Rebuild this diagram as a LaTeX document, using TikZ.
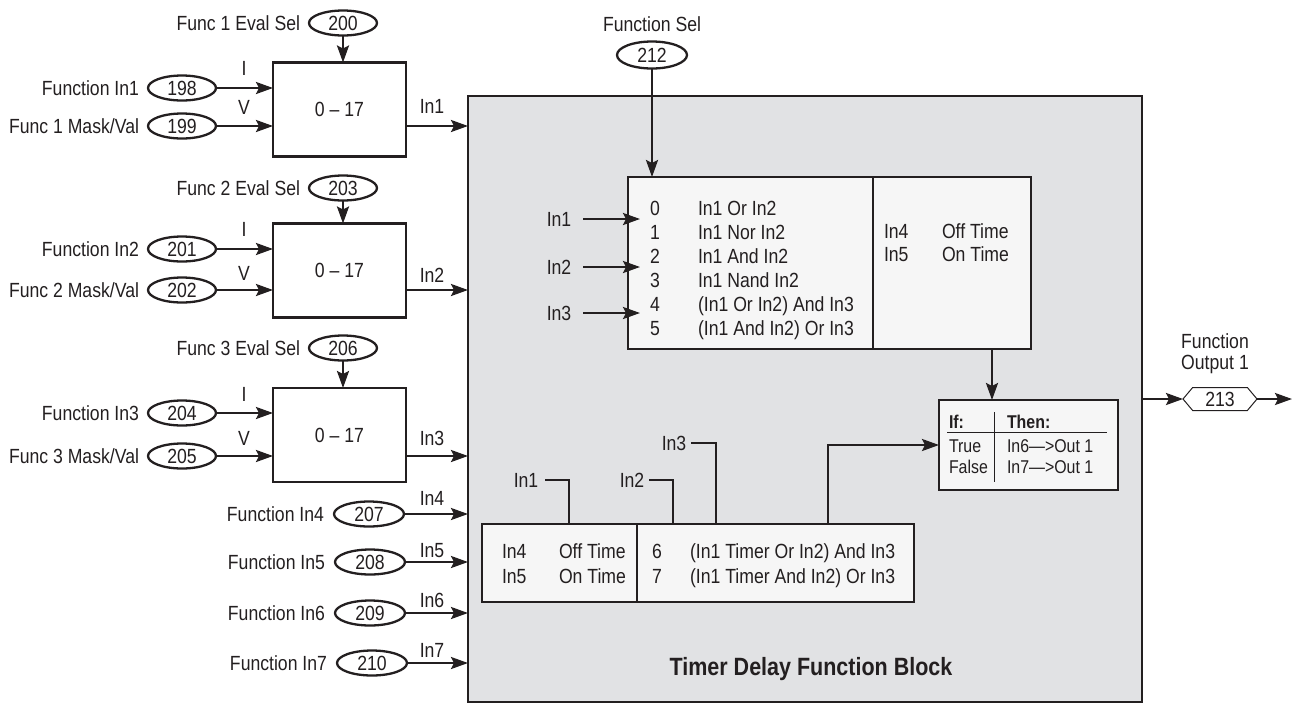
\documentclass[tikz,border=0pt]{standalone}
\usepackage{fontspec}
\setmainfont[FakeStretch=0.86]{Liberation Sans}
\usetikzlibrary{arrows.meta,shapes.geometric,shapes.symbols}
\definecolor{ink}{HTML}{231F20}
\definecolor{panel}{HTML}{E1E2E4}
\definecolor{card}{HTML}{F6F6F6}
\begin{document}
\begin{tikzpicture}[x=1pt,y=-1pt,
  font=\fontsize{20.5}{24}\selectfont,
  every node/.style={inner sep=0pt, outer sep=0pt, text=ink},
  ln/.style={draw=ink, line width=2.4pt},
  arr/.style={ln, -{Stealth[length=17pt,width=12pt,inset=3pt]}},
  pill/.style={ellipse, draw=ink, line width=2.3pt, fill=white, minimum width=68pt, minimum height=25pt},
  fbox/.style={draw=ink, line width=2.5pt, fill=white, minimum width=133pt, minimum height=94pt},
  card/.style={draw=ink, line width=2.5pt, fill=card, anchor=north west},
  small/.style={font=\fontsize{18.5}{22}\selectfont},
  smallb/.style={font=\bfseries\fontsize{18.5}{22}\selectfont}]
\useasboundingbox (0,0) rectangle (1293,705);

% main panel
\node[draw=ink, line width=2.8pt, fill=panel, minimum width=674pt, minimum height=606pt, anchor=north west] (main) at (468,96) {};
\node[anchor=base, font=\bfseries\fontsize{25}{30}\selectfont] (title) at (811,675) {Timer Delay Function Block};

% ---------- function block 1
\node[fbox] (fb1) at (339.5,109.5) {0 – 17};
\node[pill] (e200) at (343,23) {200};
\node[anchor=east] (l200) at ([xshift=-9pt]e200.west) {Func 1 Eval Sel};
\node[pill] (e198) at (182,88) {198};
\node[anchor=east] (l198) at ([xshift=-9pt]e198.west) {Function In1};
\node[pill] (e199) at (182,126) {199};
\node[anchor=east] (l199) at ([xshift=-9pt]e199.west) {Func 1 Mask/Val};
\draw[arr] (e200.south) -- (e200.south |- fb1.north);
\draw[arr] (e198.east) -- (e198.east -| fb1.west);
\draw[arr] (e199.east) -- (e199.east -| fb1.west);
\node[anchor=base] (i1) at (244,75) {I};
\node[anchor=base] (v1) at (244,114) {V};
\draw[arr] (fb1.east |- e199) -- (e199 -| main.west);
\node[anchor=base] (o1) at (432,113) {In1};

% ---------- function block 2
\node[fbox] (fb2) at (339.5,270.5) {0 – 17};
\node[pill] (e203) at (343,188) {203};
\node[anchor=east] (l203) at ([xshift=-9pt]e203.west) {Func 2 Eval Sel};
\node[pill] (e201) at (182,249) {201};
\node[anchor=east] (l201) at ([xshift=-9pt]e201.west) {Function In2};
\node[pill] (e202) at (182,290) {202};
\node[anchor=east] (l202) at ([xshift=-9pt]e202.west) {Func 2 Mask/Val};
\draw[arr] (e203.south) -- (e203.south |- fb2.north);
\draw[arr] (e201.east) -- (e201.east -| fb2.west);
\draw[arr] (e202.east) -- (e202.east -| fb2.west);
\node[anchor=base] (i2) at (244,236) {I};
\node[anchor=base] (v2) at (244,280) {V};
\draw[arr] (fb2.east |- e202) -- (e202 -| main.west);
\node[anchor=base] (o2) at (432,282) {In2};

% ---------- function block 3
\node[fbox] (fb3) at (339.5,435) {0 – 17};
\node[pill] (e206) at (343,348) {206};
\node[anchor=east] (l206) at ([xshift=-9pt]e206.west) {Func 3 Eval Sel};
\node[pill] (e204) at (182,413) {204};
\node[anchor=east] (l204) at ([xshift=-9pt]e204.west) {Function In3};
\node[pill] (e205) at (182,456) {205};
\node[anchor=east] (l205) at ([xshift=-9pt]e205.west) {Func 3 Mask/Val};
\draw[arr] (e206.south) -- (e206.south |- fb3.north);
\draw[arr] (e204.east) -- (e204.east -| fb3.west);
\draw[arr] (e205.east) -- (e205.east -| fb3.west);
\node[anchor=base] (i3) at (244,401) {I};
\node[anchor=base] (v3) at (244,445) {V};
\draw[arr] (fb3.east |- e205) -- (e205 -| main.west);
\node[anchor=base] (o3) at (432,445) {In3};

% ---------- direct inputs
\node[pill, minimum width=70pt] (e207) at (369,514) {207};
\node[anchor=east] (l207) at ([xshift=-10pt]e207.west) {Function In4};
\draw[arr] (e207.east) -- (e207.east -| main.west);
\node[anchor=base] (o4) at (432,505) {In4};
\node[pill, minimum width=70pt] (e208) at (370,562) {208};
\node[anchor=east] (l208) at ([xshift=-10pt]e208.west) {Function In5};
\draw[arr] (e208.east) -- (e208.east -| main.west);
\node[anchor=base] (o5) at (432,557) {In5};
\node[pill, minimum width=70pt] (e209) at (370,613) {209};
\node[anchor=east] (l209) at ([xshift=-10pt]e209.west) {Function In6};
\draw[arr] (e209.east) -- (e209.east -| main.west);
\node[anchor=base] (o6) at (432,607) {In6};
\node[pill, minimum width=70pt] (e210) at (372,663) {210};
\node[anchor=east] (l210) at ([xshift=-10pt]e210.west) {Function In7};
\draw[arr] (e210.east) -- (e210.east -| main.west);
\node[anchor=base] (o7) at (432,657) {In7};

% ---------- function select
\node (fsl) at (652,24) {Function Sel};
\node[pill, minimum width=70pt, minimum height=27pt] (e212) at (652,55) {212};

% ---------- logic table
\node[card, minimum width=403pt, minimum height=172pt] (logic) at (628,177) {};
\draw[ln] (873,177) -- (873,349);
\draw[arr] (e212.south) -- (e212.south |- logic.north);
\node[anchor=base] (n0) at (655,215) {0};
\node[anchor=base] (n1) at (655,239) {1};
\node[anchor=base] (n2) at (655,263) {2};
\node[anchor=base] (n3) at (655,287) {3};
\node[anchor=base] (n4) at (655,311) {4};
\node[anchor=base] (n5) at (655,335) {5};
\node[anchor=base west] (t0) at (698,215) {In1 Or In2};
\node[anchor=base west] (t1) at (698,239) {In1 Nor In2};
\node[anchor=base west] (t2) at (698,263) {In1 And In2};
\node[anchor=base west] (t3) at (698,287) {In1 Nand In2};
\node[anchor=base west] (t4) at (698,311) {(In1 Or In2) And In3};
\node[anchor=base west] (t5) at (698,335) {(In1 And In2) Or In3};
\node[anchor=base west] (r1a) at (884,238) {In4};
\node[anchor=base west] (r1b) at (942,238) {Off Time};
\node[anchor=base west] (r2a) at (884,261) {In5};
\node[anchor=base west] (r2b) at (942,261) {On Time};

\node (li1) at (559,219) {In1};
\node (li2) at (559,267) {In2};
\node (li3) at (559,313) {In3};
\draw[arr] ([xshift=12pt]li1.east) -- ([xshift=12pt]li1.east -| logic.west);
\draw[arr] ([xshift=12pt]li2.east) -- ([xshift=12pt]li2.east -| logic.west);
\draw[arr] ([xshift=12pt]li3.east) -- ([xshift=12pt]li3.east -| logic.west);

% ---------- if / then box
\node[card, minimum width=179pt, minimum height=90pt] (ifbox) at (939,400) {};
\coordinate (lx) at (992,0);
\draw[arr] (logic.south -| lx) -- (ifbox.north -| lx);
\node[anchor=base west, smallb] (h1) at (949,428) {If:};
\node[anchor=base west, smallb] (h2) at (1007,428) {Then:};
\draw[draw=ink, line width=1pt] (947,432) -- (1107,432);
\draw[draw=ink, line width=1pt] (994,412) -- (994,482);
\node[anchor=base west, small] (c1) at (949,452) {True};
\node[anchor=base west, small] (c2) at (949,473) {False};
\node[anchor=base west, small] (d1) at (1007,452) {In6—>Out 1};
\node[anchor=base west, small] (d2) at (1007,473) {In7—>Out 1};

% ---------- timer table
\node[card, minimum width=432pt, minimum height=78pt] (timer) at (482,524) {};
\draw[ln] (637,524) -- (637,602);
\node[anchor=base west] (u1a) at (502,558) {In4};
\node[anchor=base west] (u1b) at (559,558) {Off Time};
\node[anchor=base west] (u2a) at (502,583) {In5};
\node[anchor=base west] (u2b) at (559,583) {On Time};
\node[anchor=base west] (w1a) at (652,558) {6};
\node[anchor=base west] (w1b) at (690,558) {(In1 Timer Or In2) And In3};
\node[anchor=base west] (w2a) at (652,583) {7};
\node[anchor=base west] (w2b) at (690,583) {(In1 Timer And In2) Or In3};

\node (ti1) at (526,480) {In1};
\node (ti2) at (632,480) {In2};
\node (ti3) at (674,443) {In3};
\coordinate (tp1) at (569,524);
\coordinate (tp2) at (673,524);
\coordinate (tp3) at (716,524);
\draw[ln] ([xshift=7pt]ti1.east) -| (tp1);
\draw[ln] ([xshift=5pt]ti2.east) -| (tp2);
\draw[ln] ([xshift=5pt]ti3.east) -| (tp3);
\coordinate (tout) at (828,524);
\draw[arr] (tout) |- (ifbox.west);

% ---------- output
\node[signal, signal to=west and east, signal pointer angle=100, draw=ink, line width=1pt, fill=white,
      minimum width=74pt, minimum height=23pt] (out213) at (1220,399) {213};
\draw[arr] (main.east |- out213) -- (out213.west);
\coordinate (oend) at (1292,399);
\draw[arr] (out213.east) -- (oend);
\node[anchor=base] (fo1) at (1215,348) {Function};
\node[anchor=base] (fo2) at (1215,369) {Output 1};
\end{tikzpicture}
\end{document}
